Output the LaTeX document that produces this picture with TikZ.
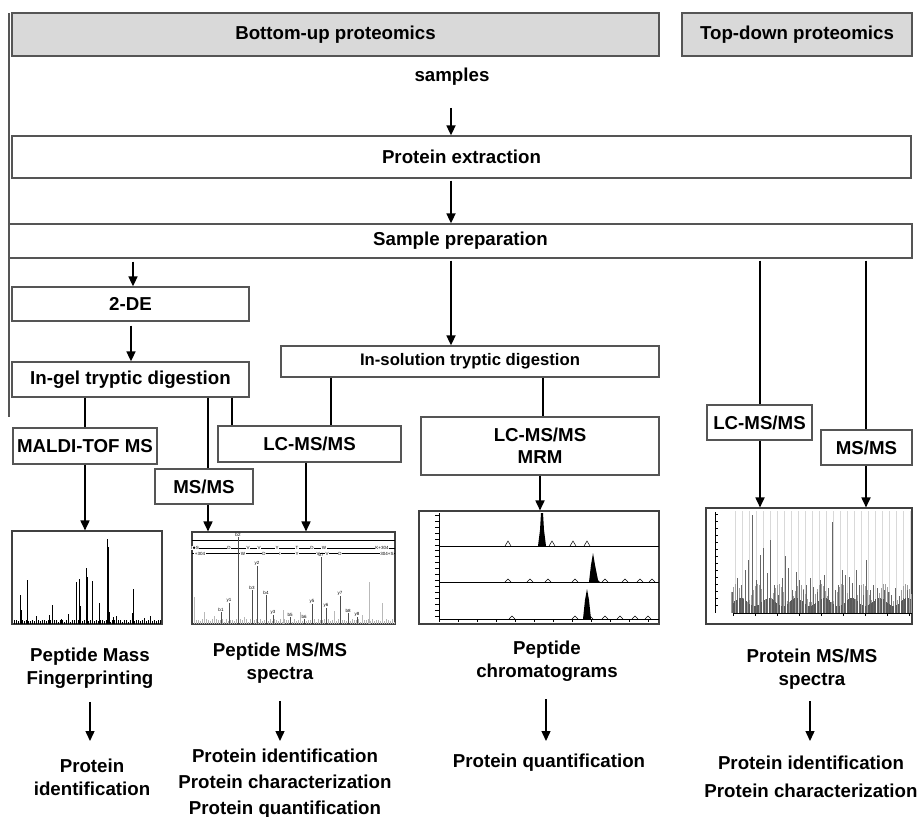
\documentclass[tikz,border=0pt]{standalone}
\usepackage{fontspec}
\setmainfont{Liberation Sans}
\usetikzlibrary{arrows.meta}
\definecolor{boxline}{RGB}{85,85,85}
\definecolor{headfill}{RGB}{217,217,217}
\tikzset{
  box/.style={draw=boxline, line width=1.3pt, fill=white, inner sep=0pt, align=center,
    font=\fontsize{18.7}{22}\selectfont\bfseries},
  head/.style={box, fill=headfill},
  lbl/.style={inner sep=0pt, align=center, font=\fontsize{18.7}{23}\selectfont\bfseries},
  plot/.style={draw=black!75, line width=1.1pt, fill=white, inner sep=0pt},
  arr/.style={-{Triangle[width=9pt,length=10pt]}, line width=1.7pt},
  link/.style={line width=1.7pt},
  peak/.style={line width=1pt},
  tiny/.style={inner sep=0pt, font=\fontsize{4.5}{5}\selectfont}
}

\begin{document}
\begin{tikzpicture}[x=1pt, y=-1pt]
\useasboundingbox (0,0) rectangle (919,817);

% headers and main chain
\node[head, minimum width=647pt, minimum height=43pt] (bu) at (335.5,34.5) {Bottom-up proteomics};
\node[head, minimum width=230pt, minimum height=43pt] (td) at (797,34.5) {Top-down proteomics};
\draw[boxline, line width=1.3pt] (9,13) -- (9,417);
\node[lbl] (samples) at (452,77) {samples};
\node[box, minimum width=899pt, minimum height=42pt] (pe) at (461.5,157) {Protein extraction};
\node[box, minimum width=903pt, minimum height=34pt] (sp) at (460.5,241) {Sample preparation};

% bottom-up branch
\node[box, minimum width=237pt, minimum height=34pt] (tde) at (130.5,304) {2-DE};
\node[box, minimum width=237pt, minimum height=35pt] (ingel) at (130.5,379.5) {In-gel tryptic digestion};
\node[box, minimum width=378pt, minimum height=31pt, font=\fontsize{16.7}{20}\selectfont\bfseries] (insol) at (470,361.5) {In-solution tryptic digestion};
\node[box, minimum width=144pt, minimum height=36pt] (maldi) at (85,446) {MALDI-TOF MS};
\node[box, minimum width=98pt, minimum height=35pt] (msmsA) at (204,486.5) {MS/MS};
\node[box, minimum width=183pt, minimum height=36pt] (lcmsA) at (309.5,444) {LC-MS/MS};
\node[box, minimum width=238pt, minimum height=58pt] (mrm) at (540,446) {LC-MS/MS\\MRM};

% top-down branch
\node[box, minimum width=105pt, minimum height=35pt] (lcmsB) at (759.5,422.5) {LC-MS/MS};
\node[box, minimum width=91pt, minimum height=35pt] (msmsB) at (866.5,447.5) {MS/MS};

% spectra
\node[plot, minimum width=150pt, minimum height=93pt] (pmf) at (87,577.5) {};
\node[plot, minimum width=203pt, minimum height=92pt] (pep) at (293.5,578) {};
\node[plot, minimum width=240pt, minimum height=113pt] (chrom) at (539,567.5) {};
\node[plot, minimum width=206pt, minimum height=116pt] (prot) at (809,566) {};

% column positions
\coordinate (xa) at (451,0);
\coordinate (xb) at (133,0);
\coordinate (xc) at (131,0);
\coordinate (xd) at (85,0);
\coordinate (xe) at (208,0);
\coordinate (xf) at (232,0);
\coordinate (xg) at (331,0);
\coordinate (xh) at (543,0);
\coordinate (xi) at (760,0);
\coordinate (xj) at (866,0);
\coordinate (xk) at (306,0);
\coordinate (xl) at (540,0);
\coordinate (xm) at (546,0);
\coordinate (xn) at (810,0);
\coordinate (ya) at (0,741);

\draw[arr] ([yshift=-22pt]samples.south -| xa) -- (xa |- pe.north);
\draw[arr, shorten <=2pt] (xa |- pe.south) -- (xa |- sp.north);
\draw[arr, shorten <=3pt] (xb |- sp.south) -- (xb |- tde.north);
\draw[arr, shorten <=4pt] (xc |- tde.south) -- (xc |- ingel.north);
\draw[arr, shorten <=2pt] (xa |- sp.south) -- (xa |- insol.north);
\draw[link] (xd |- ingel.south) -- (xd |- maldi.north);
\draw[link] (xe |- ingel.south) -- (xe |- msmsA.north);
\draw[link] (xf |- ingel.south) -- (xf |- lcmsA.north);
\draw[link] (xg |- insol.south) -- (xg |- lcmsA.north);
\draw[link] (xh |- insol.south) -- (xh |- mrm.north);
\draw[link, shorten <=2pt] (xi |- sp.south) -- (xi |- lcmsB.north);
\draw[link, shorten <=2pt] (xj |- sp.south) -- (xj |- msmsB.north);
\draw[arr] (xd |- maldi.south) -- (xd |- pmf.north);
\draw[arr] (xe |- msmsA.south) -- (xe |- pep.north);
\draw[arr] (xk |- lcmsA.south) -- (xk |- pep.north);
\draw[arr] (xl |- mrm.south) -- (xl |- chrom.north);
\draw[arr] (xi |- lcmsB.south) -- (xi |- prot.north);
\draw[arr] (xj |- msmsB.south) -- (xj |- prot.north);

% peptide mass fingerprint
\foreach \x in {14,16,...,160}
  \draw[line width=0.6pt] (\x,624) -- (\x,{622-2.5*abs(sin(\x*31))});
\foreach \x/\t in {20/595,21/610,27/580,36/616,49/615,52/605,61/619,68/614,76/582,79/579,
    80/606,86/568,87/577,92/581,99/603,107/539,108/547,109/612,113/617,116/616,133/589,132/613,144/618,150/616}
  \draw[peak] (\x,624) -- (\x,\t);

% peptide MS/MS spectrum
\draw[line width=0.7pt] (192,540) -- (395,540);
\draw[line width=0.5pt] (192,548) -- (395,548);
\draw[line width=0.5pt] (192,553) -- (395,553);
\foreach \x/\s in {195/I$\bullet$S,229/D,248/V,259/V,277/Y,297/T,312/D,324/W,382/K+304}
  \node[tiny, fill=white, inner xsep=0.5pt] at (\x,548) {\s};
\foreach \x/\s in {200/+304,243/W,264/D,280/I,297/Y,318/V,327/V,340/D,387/304+S}
  \node[tiny, fill=white, inner xsep=0.5pt] at (\x,553.5) {\s};
\foreach \x in {194,196,...,394}
  \draw[gray!60, line width=0.5pt] (\x,624) -- (\x,{622-3*abs(sin(\x*37))});
\foreach \x/\t in {194/597,204/612,214/616,244/617,283/610,300/612,334/611,362/615,369/582,382/603}
  \draw[gray!55, line width=0.8pt] (\x,624) -- (\x,\t);
\foreach \x/\t/\s in {238/537/b2,257/566/y2,252/590/b3,266/595/b4,321/557/b7,229/603/y1,221/612/b1,
    273/615/y3,290/617/b5,304/619/b6,312/604/y5,326/608/y6,340/596/y7,348/613/b8,357/617/y8}
{
  \draw[black!70, line width=0.9pt] (\x,624) -- (\x,\t);
  \node[tiny, anchor=south] at (\x,\t) {\s};
}

% chromatograms
\draw[line width=0.7pt] (439,513) -- (439,619) -- (659,619);
\draw[line width=0.7pt] (439,546) -- (659,546);
\draw[line width=0.7pt] (439,582) -- (659,582);
\foreach \y in {515,521,...,545,550,556,...,581,586,592,...,618}
  \draw[line width=0.5pt] (435,\y) -- (439,\y);
\foreach \x in {439,458,...,659}
  \draw[line width=0.5pt] (\x,619) -- (\x,622);
\fill (538,546) -- (540,530) -- (541,513) -- (543,513) -- (544,530) -- (546,546) -- cycle;
\foreach \x in {508,552,573,587}
  \draw[line width=0.5pt] (\x-3,546) -- (\x,541) -- (\x+3,546);
\fill (589,582) -- (591,565) -- (593,553) -- (595,565) -- (598,580) -- (600,582) -- cycle;
\foreach \x in {508,530,548,575,605,625,640,652}
  \draw[line width=0.5pt] (\x-3,582) -- (\x,579) -- (\x+3,582);
\fill (583,619) -- (585,600) -- (587,589) -- (589,600) -- (591,619) -- cycle;
\foreach \x in {512,575,590,605,620,635,648}
  \draw[line width=0.5pt] (\x-3,619) -- (\x,616) -- (\x+3,619);

% protein MS/MS spectrum
\foreach \x in {735,742,...,910}
  \draw[gray!30, line width=0.4pt] (\x,511) -- (\x,613);
\draw[line width=0.6pt] (715,512) -- (715,613);
\foreach \y in {514,521,...,608}
  \draw[line width=0.5pt] (715,\y) -- (718,\y);
\draw[line width=0.6pt] (733,613) -- (912,613);
\foreach \x in {733,755,...,912}
  \draw[line width=0.5pt] (\x,613) -- (\x,616);
\foreach \x in {731,733,...,911}
  \draw[gray!75, line width=0.7pt] (\x,613) -- (\x,{593+9*sin(\x*17)});
\foreach \x in {733,734.5,...,911}
  \draw[black!65, line width=0.8pt] (\x,613) -- (\x,{602+4*sin(\x*13)});
\foreach \x/\t in {732/592,737/578,741/585,745/570,748/560,752/515,756/580,760/555,763/548,767/573,
    770/540,774/585,778/595,782/578,785/556,788/568,792/590,796/572,799/580,803/590,806/585,810/578,
    813/587,817/592,820/580,824/575,828/588,832/522,835/590,838/585,842/570,845/575,849/577,852/583,
    856/570,859/585,863/595,866/560,870/590,873/585,877/588,880/598,884/590,888/592,891/595,895/588,
    899/596,903/598,907/590,910/600}
  \draw[black!60, line width=0.9pt] (\x,613) -- (\x,\t);

% results
\node[lbl] (labA) at (90,668.5) {Peptide Mass\\Fingerprinting};
\node[lbl] (labB) at (280,663.5) {Peptide MS/MS\\spectra};
\node[lbl] (labC) at (547,661) {Peptide\\chromatograms};
\node[lbl] (labD) at (812,669) {Protein MS/MS\\spectra};
\node[lbl] (resA) at (92,777) {Protein\\identification};
\node[lbl, font=\fontsize{18.7}{26}\selectfont\bfseries] (resB) at (285,784) {Protein identification\\Protein characterization\\Protein quantification};
\node[lbl] (resC) at (549,763) {Protein quantification};
\node[lbl, font=\fontsize{18.7}{28}\selectfont\bfseries] (resD) at (811,777) {Protein identification\\Protein characterization};

\draw[arr, line width=1.4pt] ([yshift=-13pt]labA.south) -- (labA.south |- ya);
\draw[arr, line width=1.4pt] ([yshift=-17pt]labB.south) -- (labB.south |- ya);
\draw[arr, line width=1.4pt] ([yshift=-18pt]labC.south -| xm) -- (xm |- ya);
\draw[arr, line width=1.4pt] ([yshift=-12pt]labD.south -| xn) -- (xn |- ya);
\end{tikzpicture}
\end{document}
